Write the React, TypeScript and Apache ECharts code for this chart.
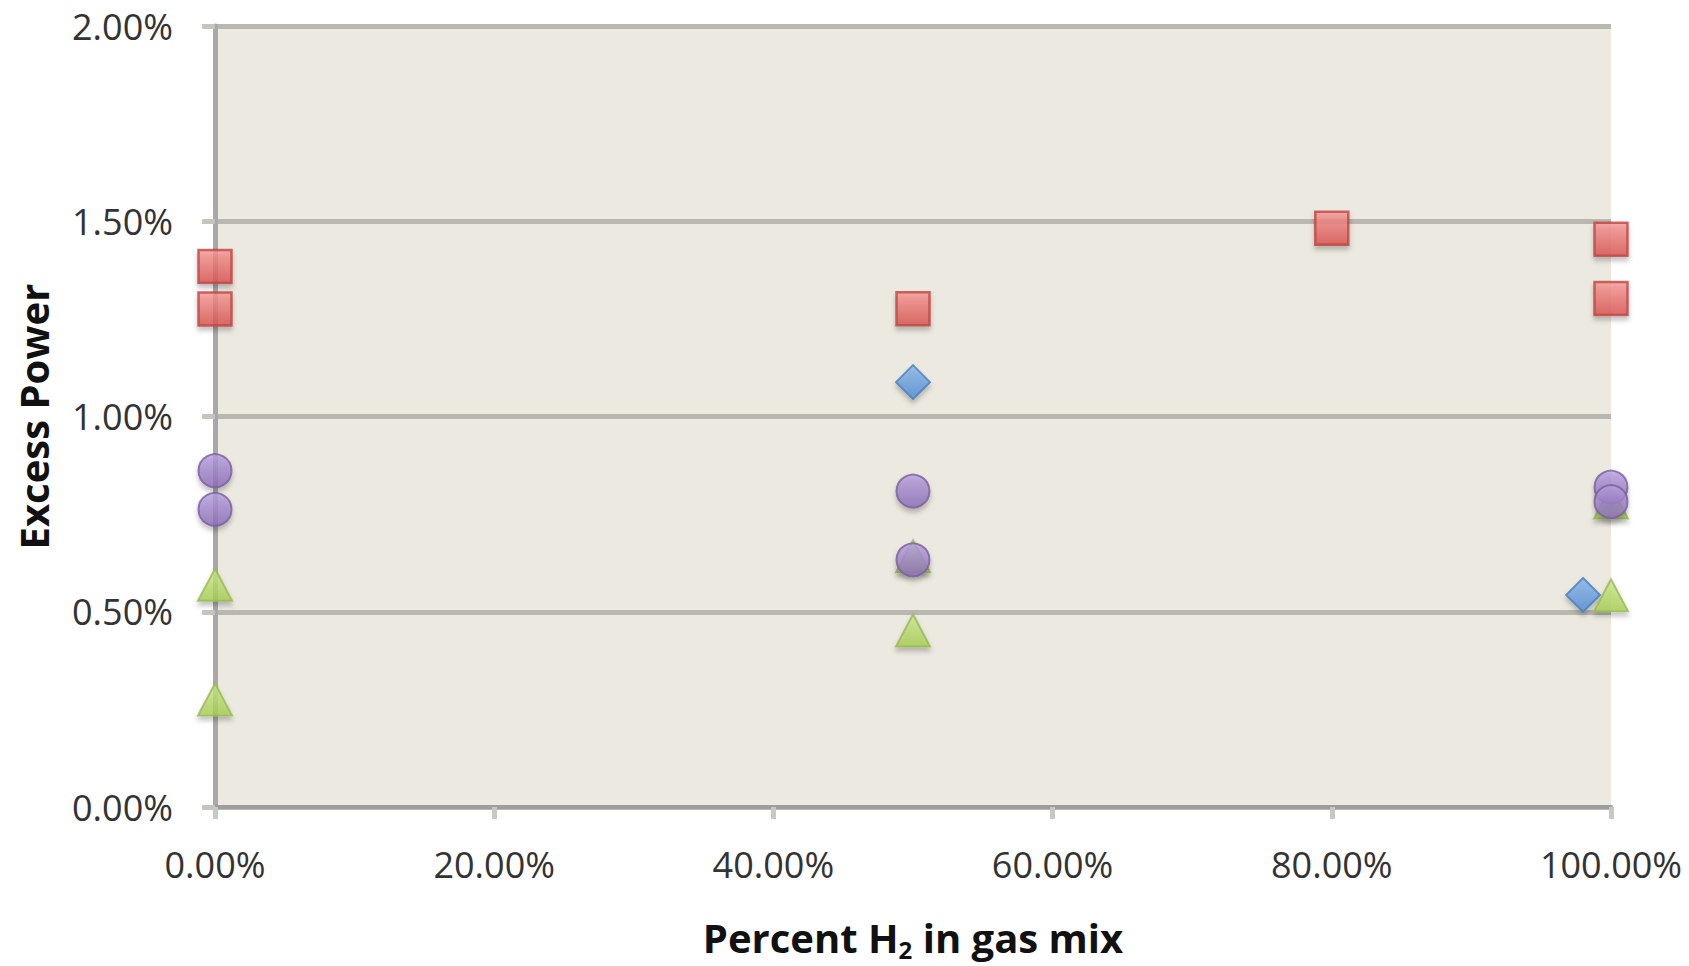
import React, { useEffect, useRef } from "react";
import * as echarts from "echarts";

// Percent H2 in gas mix (x, %) vs. excess power (y, %)
const blueDiamonds: [number, number][] = [
  [50, 1.088],
  [98, 0.543],
];
const redSquares: [number, number][] = [
  [0, 1.384],
  [0, 1.275],
  [50, 1.276],
  [80, 1.482],
  [100, 1.454],
  [100, 1.302],
];
const greenTriangles: [number, number][] = [
  [0, 0.569],
  [0, 0.275],
  [50, 0.642],
  [50, 0.452],
  [100, 0.78],
  [100, 0.542],
];
const purpleCircles: [number, number][] = [
  [0, 0.861],
  [0, 0.762],
  [50, 0.809],
  [50, 0.633],
  [100, 0.819],
  [100, 0.782],
];

const xTicks = [0, 20, 40, 60, 80, 100];
const yTicks = [0, 0.5, 1, 1.5, 2];

const FONT = "'Open Sans', 'Noto Sans', sans-serif";

function grad(top: string, bottom: string) {
  return {
    type: "linear",
    x: 0,
    y: 0,
    x2: 0,
    y2: 1,
    colorStops: [
      { offset: 0, color: top },
      { offset: 1, color: bottom },
    ],
  };
}

const shadow = {
  shadowBlur: 5,
  shadowOffsetX: 0,
  shadowOffsetY: 4,
  shadowColor: "rgba(0,0,0,0.28)",
};

export default function App() {
  const ref = useRef<HTMLDivElement>(null);

  useEffect(() => {
    if (!ref.current) return;
    const chart = echarts.init(ref.current, undefined, { renderer: "svg" });
    chart.setOption({
      animation: false,
      backgroundColor: "#ffffff",
      grid: {
        left: 215,
        right: 78,
        top: 26,
        bottom: 151,
        show: true,
        backgroundColor: "#ECEAE0",
        borderWidth: 0,
      },
      xAxis: {
        type: "value",
        min: xTicks[0],
        max: xTicks[xTicks.length - 1],
        interval: xTicks[1] - xTicks[0],
        axisLine: { show: true, lineStyle: { color: "#9E9E9E", width: 4 } },
        axisTick: {
          show: true,
          length: 12,
          lineStyle: { color: "#C8C8C8", width: 5 },
        },
        splitLine: { show: false },
        axisLabel: {
          margin: 39,
          fontFamily: FONT,
          fontSize: 36,
          color: "#333333",
          formatter: (v: number) => v.toFixed(2) + "%",
        },
        name: "{a|Percent H}{sub|2}{a| in gas mix}",
        nameLocation: "middle",
        nameGap: 106,
        nameTextStyle: {
          rich: {
            a: {
              fontFamily: FONT,
              fontSize: 40,
              fontWeight: "bold",
              color: "#111111",
            },
            sub: {
              fontFamily: FONT,
              fontSize: 24,
              fontWeight: "bold",
              color: "#111111",
              padding: [24, 0, 0, 0],
            },
          },
        },
      },
      yAxis: {
        type: "value",
        min: yTicks[0],
        max: yTicks[yTicks.length - 1],
        interval: yTicks[1] - yTicks[0],
        axisLine: { show: true, lineStyle: { color: "#A8A8A8", width: 5 } },
        axisTick: {
          show: true,
          length: 13,
          lineStyle: { color: "#C4C4C0", width: 5 },
        },
        splitLine: {
          show: true,
          lineStyle: { color: "#B9B8B0", width: 5 },
        },
        axisLabel: {
          margin: 42,
          padding: [6, 0, 0, 0],
          fontFamily: FONT,
          fontSize: 36,
          color: "#333333",
          formatter: (v: number) => v.toFixed(2) + "%",
        },
        name: "Excess Power",
        nameLocation: "middle",
        nameRotate: 90,
        nameGap: 162,
        nameTextStyle: {
          fontFamily: FONT,
          fontSize: 40,
          fontWeight: "bold",
          color: "#111111",
        },
      },
      series: [
        {
          name: "Series 1",
          type: "scatter",
          data: blueDiamonds,
          symbol: "diamond",
          symbolSize: 34,
          itemStyle: {
            color: grad("#86B6EC", "#4F8BD4"),
            borderColor: "#4A7EBB",
            borderWidth: 2,
            ...shadow,
          },
        },
        {
          name: "Series 2",
          type: "scatter",
          data: redSquares,
          symbol: "rect",
          symbolSize: 33,
          itemStyle: {
            color: grad("#F89896", "#D9504C"),
            borderColor: "#BE4542",
            borderWidth: 2.5,
            ...shadow,
          },
        },
        {
          name: "Series 3",
          type: "scatter",
          data: greenTriangles,
          symbol: "triangle",
          symbolSize: [34, 32],
          itemStyle: {
            color: grad("#CDEA8C", "#A6CE52"),
            borderColor: "#98B954",
            borderWidth: 2,
            ...shadow,
          },
        },
        {
          name: "Series 4",
          type: "scatter",
          data: purpleCircles,
          symbol: "circle",
          symbolSize: 33,
          itemStyle: {
            color: grad("#B7A0DF", "#8A6BB8"),
            borderColor: "#7A5E9E",
            borderWidth: 2,
            ...shadow,
          },
        },
      ],
    });
    return () => chart.dispose();
  }, []);

  return (
    <div
      ref={ref}
      style={{
        position: "fixed",
        left: 0,
        top: 0,
        width: "1689px",
        height: "966px",
      }}
    />
  );
}
